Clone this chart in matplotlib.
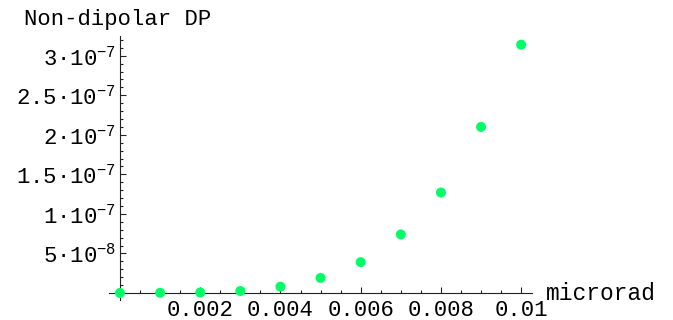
import matplotlib
matplotlib.use("Agg")
import matplotlib.pyplot as plt
from matplotlib.ticker import MultipleLocator, FixedLocator, FixedFormatter

plt.rcParams['font.family'] = ['Liberation Mono', 'DejaVu Sans Mono']
plt.rcParams['mathtext.fontset'] = 'custom'
plt.rcParams['mathtext.rm'] = 'Liberation Mono'
plt.rcParams['mathtext.default'] = 'regular'

# data
x_vals = [0.0, 0.001, 0.002, 0.003, 0.004, 0.005, 0.006, 0.007, 0.008, 0.009, 0.010]
y_vals = [0.0, 2e-10, 6e-10, 2.5e-9, 8e-9, 1.9e-8, 3.9e-8, 7.4e-8, 1.27e-7, 2.1e-7, 3.14e-7]
x_ticks = [0.002, 0.004, 0.006, 0.008, 0.01]
x_tick_labels = ['0.002', '0.004', '0.006', '0.008', '0.01']
y_ticks = [5e-8, 1e-7, 1.5e-7, 2e-7, 2.5e-7, 3e-7]
y_tick_labels = ['5·10$^{-8}$', '1·10$^{-7}$', '1.5·10$^{-7}$', '2·10$^{-7}$', '2.5·10$^{-7}$', '3·10$^{-7}$']
y_title = 'Non-dipolar DP'
x_title = 'microrad'

W, H = 673, 320
fig = plt.figure(figsize=(W / 100, H / 100), dpi=100)
ax = fig.add_axes([109 / W, 1 - 300 / H, (532 - 109) / W, (300 - 36) / H])
ax.set_xlim(-0.000274, 0.01027)
ax.set_ylim(-8.9e-9, 3.25e-7)

for s in ['top', 'right']:
    ax.spines[s].set_visible(False)
ax.spines['left'].set_position(('data', 0))
ax.spines['bottom'].set_position(('data', 0))
for s in ['left', 'bottom']:
    ax.spines[s].set_linewidth(0.8)
    ax.spines[s].set_color('#222222')

ax.xaxis.set_major_locator(FixedLocator(x_ticks))
ax.xaxis.set_major_formatter(FixedFormatter(x_tick_labels))
ax.xaxis.set_minor_locator(MultipleLocator(0.0005))
ax.yaxis.set_major_locator(FixedLocator(y_ticks))
ax.yaxis.set_major_formatter(FixedFormatter(y_tick_labels))
ax.yaxis.set_minor_locator(MultipleLocator(1e-8))

ax.tick_params(which='both', direction='in', color='#222222', width=0.8, labelsize=16)
ax.tick_params(which='major', length=4)
ax.tick_params(which='minor', length=2.3)
ax.tick_params(axis='x', which='major', pad=5)
ax.tick_params(axis='y', which='major', pad=3)

ax.scatter(x_vals, y_vals, s=52, color='#00ff66', edgecolors='none', zorder=5, clip_on=False)

fig.text(118 / W, 1 - 25 / H, y_title, ha='center', va='baseline', fontsize=16)
fig.text(546 / W, 1 - 300 / H, x_title, ha='left', va='baseline', fontsize=16.5)

fig.savefig('out.png', dpi=100)
